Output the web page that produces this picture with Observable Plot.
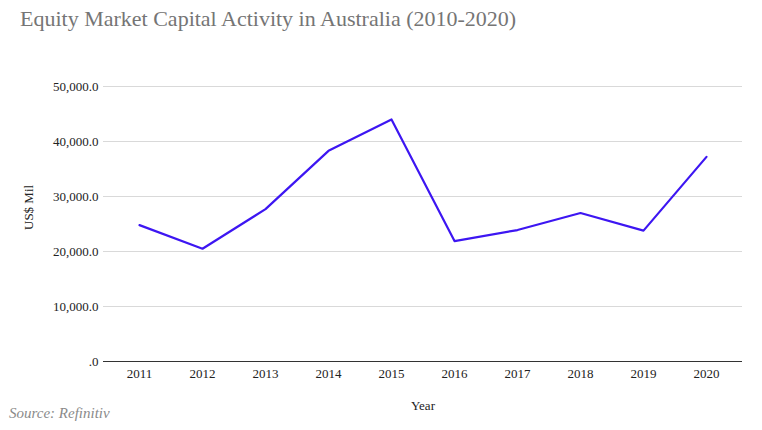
<!DOCTYPE html>
<html>
<head>
<meta charset="utf-8">
<script src="https://cdn.jsdelivr.net/npm/d3@7"></script>
<script src="https://cdn.jsdelivr.net/npm/@observablehq/plot@0.6"></script>
<style>
  body { margin: 0; background: #fff; }
  #wrap { position: relative; width: 762px; height: 430px; overflow: hidden; background: #fff; }
  #title { position: absolute; left: 20px; top: 6px; font-family: "Liberation Serif", serif; font-size: 22px; color: #757575; white-space: nowrap; }
  #source { position: absolute; left: 9px; top: 405px; font-family: "Liberation Serif", serif; font-style: italic; font-size: 15px; color: #8a8a8a; }
  #chart { position: absolute; left: 0; top: 0; }
</style>
</head>
<body>
<div id="wrap">
  <div id="chart"></div>
  <div id="title">Equity Market Capital Activity in Australia (2010-2020)</div>
  <div id="source">Source: Refinitiv</div>
</div>
<script>
const years = ["2011","2012","2013","2014","2015","2016","2017","2018","2019","2020"];
const values = [24800, 20500, 27700, 38300, 44000, 21900, 23900, 27000, 23800, 37200];
const yTicks = [0, 10000, 20000, 30000, 40000, 50000];
const yLabel = "US$ Mil";
const xLabel = "Year";

const data = years.map((y, i) => ({year: y, value: values[i]}));
const fmt = d => d === 0 ? ".0" : d3.format(",.1f")(d);

const chart = Plot.plot({
  width: 762,
  height: 430,
  marginTop: 86,
  marginBottom: 69,
  marginLeft: 103,
  marginRight: 20,
  style: {fontFamily: "Liberation Serif", fontSize: "13px", color: "#222", background: "transparent"},
  x: {type: "point", domain: years, padding: 0.5},
  y: {domain: [0, 50000]},
  marks: [
    Plot.ruleY(yTicks.filter(d => d > 0), {stroke: "#d9d9d9", strokeWidth: 1}),
    Plot.ruleY([0], {stroke: "#333", strokeWidth: 1}),
    Plot.axisY(yTicks, {tickSize: 0, tickPadding: 5, tickFormat: fmt, label: null}),
    Plot.axisX({tickSize: 0, tickPadding: 7, label: null}),
    Plot.text([yLabel], {frameAnchor: "left", dx: -75, dy: 6, rotate: -90, fontSize: 13, fill: "#222"}),
    Plot.text([xLabel], {frameAnchor: "bottom", dy: 48, fontSize: 13, fill: "#222"}),
    Plot.line(data, {x: "year", y: "value", stroke: "#3d16f2", strokeWidth: 2.2})
  ]
});
document.getElementById("chart").appendChild(chart);
</script>
</body>
</html>
